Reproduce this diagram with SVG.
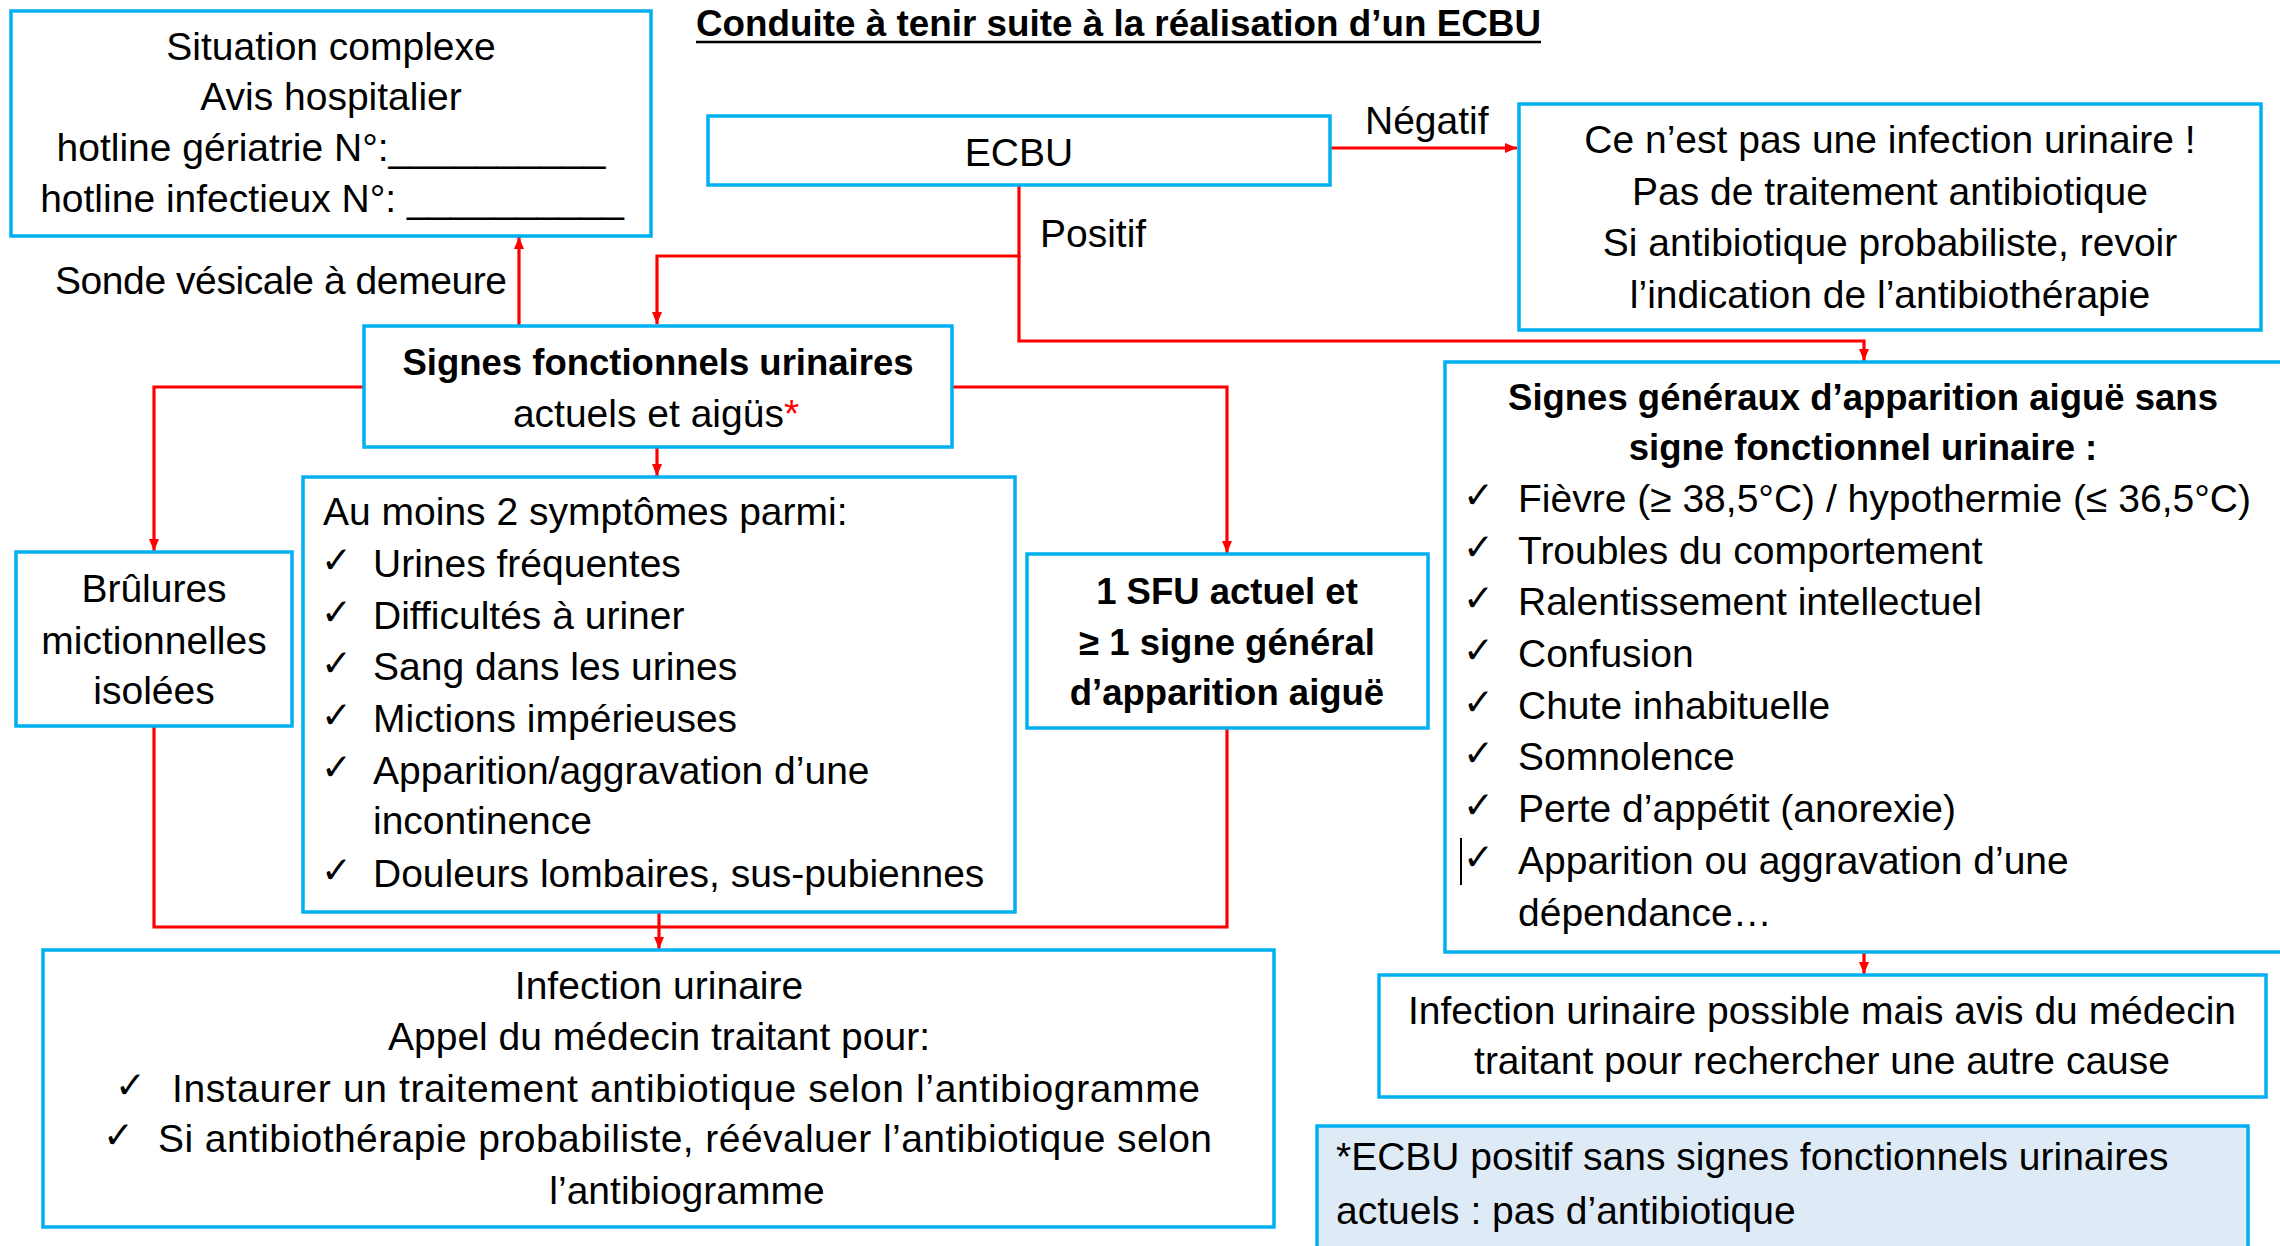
<svg xmlns="http://www.w3.org/2000/svg" width="2280" height="1246" viewBox="0 0 2280 1246">
<defs>
<style>
.box{fill:#ffffff;stroke:#00B0F0;stroke-width:3.5}
.note{fill:#DEEBF7;stroke:#00B0F0;stroke-width:3.5}
.t{font-family:"Liberation Sans",Arial,sans-serif;font-size:39px;fill:#000}
.b{font-family:"Liberation Sans",Arial,sans-serif;font-size:36.5px;font-weight:bold;fill:#000}
.c{text-anchor:middle}
.ck{font-family:"DejaVu Sans",sans-serif;font-size:37px;fill:#000}
.con{fill:none;stroke:#FF0000;stroke-width:3.2}
</style>
<marker id="ah" markerUnits="userSpaceOnUse" markerWidth="12" markerHeight="12" refX="12" refY="6" orient="auto">
<path d="M0,1 L12,6 L0,11 z" fill="#FF0000"/>
</marker>
</defs>
<rect width="2280" height="1246" fill="#ffffff"/>

<g id="title">
<text class="b" x="696" y="36" style="font-size:36.8px" textLength="845">Conduite à tenir suite à la réalisation d’un ECBU</text>
<line x1="696" y1="42" x2="1541" y2="42" stroke="#000" stroke-width="2.5"/>
</g>

<g id="connectors">
<path class="con" d="M1331,148 H1517" marker-end="url(#ah)"/>
<path class="con" d="M1019,185 V256 H657 V324" marker-end="url(#ah)"/>
<path class="con" d="M1019,256 V341 H1864 V361" marker-end="url(#ah)"/>
<path class="con" d="M519,326 V237" marker-end="url(#ah)"/>
<path class="con" d="M364,387 H154 V551" marker-end="url(#ah)"/>
<path class="con" d="M657,447 V476" marker-end="url(#ah)"/>
<path class="con" d="M952,387 H1227 V553" marker-end="url(#ah)"/>
<path class="con" d="M154,726 V927 H1227 V728"/>
<path class="con" d="M659,912 V949" marker-end="url(#ah)"/>
<path class="con" d="M1864,952 V974" marker-end="url(#ah)"/>
<text class="t" x="1365" y="134">Négatif</text>
<text class="t" x="1040" y="247">Positif</text>
<text class="t" x="55" y="294" textLength="452">Sonde vésicale à demeure</text>
</g>

<g id="situation">
<rect class="box" x="11" y="11" width="640" height="225"/>
<text class="t c" x="331" y="60">Situation complexe</text>
<text class="t c" x="331" y="110">Avis hospitalier</text>
<text class="t c" x="331" y="161">hotline gériatrie N°:__________</text>
<text class="t c" x="332" y="212">hotline infectieux N°: __________</text>
</g>

<g id="ecbu">
<rect class="box" x="708" y="116" width="622" height="69"/>
<text class="t c" x="1019" y="166">ECBU</text>
</g>

<g id="negatif">
<rect class="box" x="1519" y="104" width="742" height="226"/>
<text class="t c" x="1890" y="153">Ce n’est pas une infection urinaire !</text>
<text class="t c" x="1890" y="205">Pas de traitement antibiotique</text>
<text class="t c" x="1890" y="256">Si antibiotique probabiliste, revoir</text>
<text class="t c" x="1890" y="308">l’indication de l’antibiothérapie</text>
</g>

<g id="sfu">
<rect class="box" x="364" y="326" width="588" height="121"/>
<text class="b c" x="658" y="375">Signes fonctionnels urinaires</text>
<text class="t c" x="656" y="427">actuels et aigüs<tspan fill="#FF0000">*</tspan></text>
</g>

<g id="brulures">
<rect class="box" x="16" y="552" width="276" height="174"/>
<text class="t c" x="154" y="602">Brûlures</text>
<text class="t c" x="154" y="654">mictionnelles</text>
<text class="t c" x="154" y="704">isolées</text>
</g>

<g id="symptomes">
<rect class="box" x="303" y="477" width="712" height="435"/>
<text class="t" x="323" y="525">Au moins 2 symptômes parmi:</text>
<text class="ck" x="321" y="573">✓</text><text class="t" x="373" y="577">Urines fréquentes</text>
<text class="ck" x="321" y="625">✓</text><text class="t" x="373" y="629">Difficultés à uriner</text>
<text class="ck" x="321" y="676">✓</text><text class="t" x="373" y="680">Sang dans les urines</text>
<text class="ck" x="321" y="728">✓</text><text class="t" x="373" y="732">Mictions impérieuses</text>
<text class="ck" x="321" y="780">✓</text><text class="t" x="373" y="784">Apparition/aggravation d’une</text>
<text class="t" x="373" y="834">incontinence</text>
<text class="ck" x="321" y="883">✓</text><text class="t" x="373" y="887">Douleurs lombaires, sus-pubiennes</text>
</g>

<g id="sfu-general">
<rect class="box" x="1027" y="554" width="401" height="174"/>
<text class="b c" x="1227" y="604">1 SFU actuel et</text>
<text class="b c" x="1227" y="655">≥ 1 signe général</text>
<text class="b c" x="1227" y="705">d’apparition aiguë</text>
</g>

<g id="signes-generaux">
<rect class="box" x="1445" y="362" width="845" height="590"/>
<text class="b c" x="1863" y="410">Signes généraux d’apparition aiguë sans</text>
<text class="b c" x="1863" y="460">signe fonctionnel urinaire :</text>
<text class="ck" x="1463" y="508">✓</text><text class="t" x="1518" y="512">Fièvre (≥ 38,5°C) / hypothermie (≤ 36,5°C)</text>
<text class="ck" x="1463" y="560">✓</text><text class="t" x="1518" y="564">Troubles du comportement</text>
<text class="ck" x="1463" y="611">✓</text><text class="t" x="1518" y="615">Ralentissement intellectuel</text>
<text class="ck" x="1463" y="663">✓</text><text class="t" x="1518" y="667">Confusion</text>
<text class="ck" x="1463" y="715">✓</text><text class="t" x="1518" y="719">Chute inhabituelle</text>
<text class="ck" x="1463" y="766">✓</text><text class="t" x="1518" y="770">Somnolence</text>
<text class="ck" x="1463" y="818">✓</text><text class="t" x="1518" y="822">Perte d’appétit (anorexie)</text>
<line x1="1461" y1="838" x2="1461" y2="885" stroke="#000" stroke-width="2"/>
<text class="ck" x="1463" y="870">✓</text><text class="t" x="1518" y="874">Apparition ou aggravation d’une</text>
<text class="t" x="1518" y="926">dépendance…</text>
</g>

<g id="infection">
<rect class="box" x="43" y="950" width="1231" height="277"/>
<text class="t c" x="659" y="999">Infection urinaire</text>
<text class="t c" x="659" y="1050">Appel du médecin traitant pour:</text>
<text class="ck" x="115" y="1098">✓</text><text class="t" x="172" y="1102" textLength="1028">Instaurer un traitement antibiotique selon l’antibiogramme</text>
<text class="ck" x="103" y="1148">✓</text><text class="t" x="158" y="1152" textLength="1054">Si antibiothérapie probabiliste, réévaluer l’antibiotique selon</text>
<text class="t c" x="687" y="1204">l’antibiogramme</text>
</g>

<g id="infection-possible">
<rect class="box" x="1379" y="975" width="887" height="122"/>
<text class="t c" x="1822" y="1024">Infection urinaire possible mais avis du médecin</text>
<text class="t c" x="1822" y="1074">traitant pour rechercher une autre cause</text>
</g>

<g id="footnote">
<rect class="note" x="1317" y="1126" width="931" height="130"/>
<text class="t" x="1336" y="1170">*ECBU positif sans signes fonctionnels urinaires</text>
<text class="t" x="1336" y="1224">actuels : pas d’antibiotique</text>
</g>
</svg>
